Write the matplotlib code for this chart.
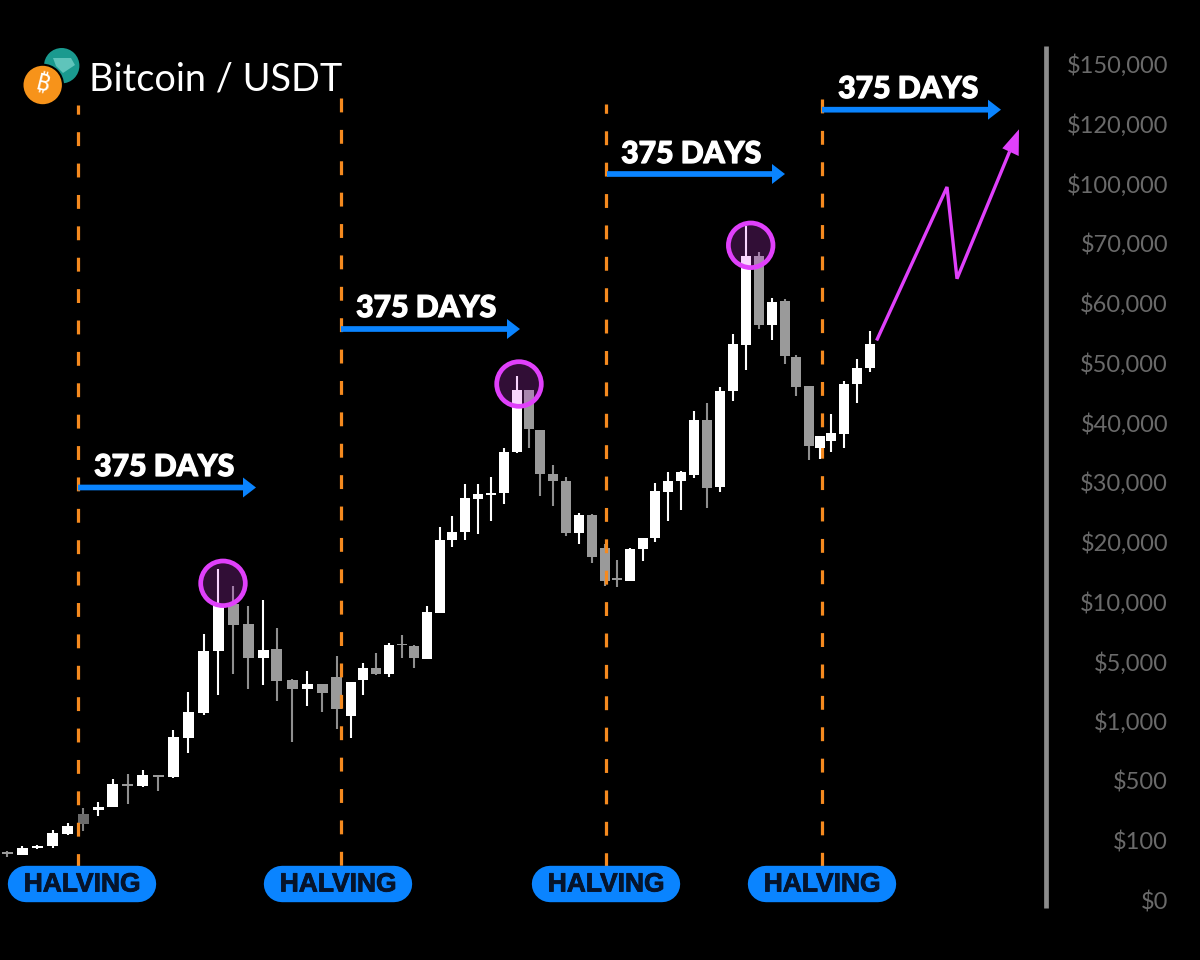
import numpy as np
import matplotlib
matplotlib.use("Agg")
import matplotlib.pyplot as plt
from matplotlib import patches, patheffects
from matplotlib.scale import FuncScale

plt.rcParams['lines.scale_dashes'] = False

# ---- data ----
price_ticks = [0, 100, 500, 1000, 5000, 10000, 20000, 30000, 40000, 50000,
               60000, 70000, 100000, 120000, 150000]
tick_labels = ['$0', '$100', '$500', '$1,000', '$5,000', '$10,000', '$20,000', '$30,000',
               '$40,000', '$50,000', '$60,000', '$70,000', '$100,000', '$120,000', '$150,000']

candle_x = [7.3, 22.3, 37.3, 52.7, 67.7, 83, 98, 112.7, 127.7, 142.7, 158, 173, 188.3, 203.7, 218,
            233, 248.3, 263.3, 276.7, 292, 307, 322, 336.7, 351, 363, 375.7, 389, 401.7, 414.3, 427,
            439.7, 452.3, 465, 477.7, 491.3, 504, 516.7, 529.3, 540.3, 553.3, 566, 578.7, 591.7, 605,
            617, 630, 642.7, 655.3, 668.3, 681, 694.3, 707.3, 720, 733, 745.7, 759.3, 772, 784.7,
            796, 808.7, 820, 831.3, 844, 856.7, 870]
open_ = [80, 76, 87, 90, 146, 278, 302, 325, 477, 466, 546, 529, 860, 1557, 5838,
         9751, 8075, 5310, 6031, 3724, 3140, 3503, 3946, 1356, 3771, 4550, 4174, 6425, 6257, 5226,
         8995, 20230, 21571, 27206, 27877, 28112, 34987, 45385, 38676, 31398, 30225, 21504, 24472, 18888,
         13857, 13354, 18720, 20565, 28280, 30124, 31231, 40287, 29118, 45217, 52967, 67789, 56335, 60243,
         50920, 45989, 35715, 36771, 38013, 46325, 49075]
high = [82, 90, 92, 168, 218, 316, 359, 518, 558, 588, 552, 921, 2919, 7263, 15467,
        12566, 9609, 10168, 7765, 3791, 4349, 3503, 5419, 3610, 4886, 5696, 6483, 7179, 6341, 9581,
        22460, 24305, 29721, 29721, 30895, 35759, 47783, 45385, 38727, 32807, 30795, 24858, 24690, 19609,
        16876, 18989, 20666, 29838, 31684, 31801, 41913, 43205, 45821, 54713, 78442, 68527, 60747, 60579,
        51188, 45989, 37610, 41360, 46828, 50545, 55216]
low = [73, 75, 85, 88, 135, 164, 262, 322, 345, 456, 428, 521, 734, 1376, 2718,
       4147, 3167, 3389, 2335, 823, 1980, 1577, 929, 856, 2765, 4107, 3946, 5277, 4550, 5226,
       8995, 19056, 20330, 21236, 23416, 26267, 34920, 35759, 27609, 25932, 20951, 19559, 16423, 12566,
       12398, 13354, 16708, 19994, 23516, 25361, 30727, 25646, 28330, 43540, 48790, 55614, 53768, 49679,
       44430, 33647, 33814, 34987, 35715, 43137, 48404]
close = [78, 87, 90, 148, 195, 208, 327, 479, 466, 549, 533, 862, 1597, 5863, 9751,
         8042, 5277, 5980, 3704, 3140, 3503, 2899, 1825, 3610, 4550, 4174, 6399, 6316, 5251, 9081,
         20330, 21622, 27273, 27944, 28162, 34987, 45317, 38844, 31297, 30174, 21504, 24472, 17379, 13354,
         13622, 18720, 20666, 28447, 30124, 31684, 40287, 29051, 45217, 53036, 67789, 56335, 60193, 51020,
         45939, 36095, 37610, 38180, 46442, 49125, 53036]

halving_x = [78, 341, 606, 822]
halving_label = 'HALVING'
span_label = '375 DAYS'
title = 'Bitcoin / USDT'

# ---- scale: evenly spaced price ladder ----
ladder_price = np.array([-200.0] + price_ticks + [180000.0, 210000.0])
ladder_pos = np.arange(len(ladder_price)) - 1.0

def to_pos(v):
    return np.interp(v, ladder_price, ladder_pos)

def to_price(p):
    return np.interp(p, ladder_pos, ladder_price)

W, H = 1200, 960
fig = plt.figure(figsize=(W / 100, H / 100), dpi=100, facecolor='black')
RIGHT = 1168
ax = fig.add_axes([0, 0, RIGHT / W, 1], facecolor='black')
ax.set_yscale(FuncScale(ax.yaxis, (to_pos, to_price)))
ax.set_xlim(0, RIGHT)
ZERO_Y, STEP = 898.5, 59.64
ax.set_ylim(to_price((ZERO_Y - H) / STEP), to_price(ZERO_Y / STEP))
for s in ax.spines.values():
    s.set_visible(False)
ax.set_xticks([])
ax.yaxis.tick_right()
ax.set_yticks(price_ticks)
ax.yaxis.set_minor_locator(matplotlib.ticker.NullLocator())
ax.set_yticklabels(tick_labels, family='Lato', fontsize=17, color='#6a6a6a', ha='right',
                   va='center_baseline')
ax.tick_params(axis='y', length=0, pad=0)

# ---- candles ----
UP, DOWN, DIM = '#ffffff', '#9a9a9a', '#6b6b6b'
dim_candles = {5}
for i, (x, o, h, l, c) in enumerate(zip(candle_x, open_, high, low, close)):
    up = c >= o
    col = UP if up else (DIM if i in dim_candles else DOWN)
    z = 4 if up else 2
    bw = 11 if x < 345 else 9.7
    ax.vlines(x, l, h, color=col if up else ('#808080' if i in dim_candles else '#8f8f8f'),
              lw=1.5, zorder=z)
    ax.bar(x, abs(c - o), bottom=min(o, c), width=bw, color=col, linewidth=0, zorder=z + 0.1)

# ---- halving lines ----
top_px = [105, 98, 104, 99.3]
off_px = [4.7, 0, 4.6, 0]
tr = ax.get_xaxis_transform()
for x, t, off in zip(halving_x, top_px, off_px):
    ax.plot([x, x], [1 - t / H, 1 - 865.5 / H], transform=tr, color='#f58a1f', lw=2.3,
            linestyle=(off * 0.72, (10.0, 12.6)), dash_capstyle='butt', zorder=3)

# ---- overlay annotations in figure pixels ----
ann = fig.add_axes([0, 0, 1, 1])
ann.set_xlim(0, W)
ann.set_ylim(H, 0)
ann.axis('off')
ann.patch.set_alpha(0)

ann.plot([1045.5, 1045.5], [46, 908], color='#8c8c8c', lw=3.4, solid_capstyle='butt')

BLUE = '#0a84ff'
PURPLE = '#e040fb'
for (x0, x1, y), (tx, ty) in zip([(78, 256, 487.5), (341, 520, 329), (607, 785, 174), (822, 1001, 109.7)],
                                 [(164, 467), (426, 308), (691, 154), (908, 89)]):
    ann.add_patch(patches.FancyArrow(x0, y, x1 - x0, 0, width=5.7, head_width=20, head_length=13,
                                     length_includes_head=True, color=BLUE, lw=0))
    ann.text(tx, ty, span_label, color='white', family='Lato', fontweight='black', fontsize=21.7,
             ha='center', va='center',
             path_effects=[patheffects.withStroke(linewidth=0.9, foreground='white')])

for cx in [82, 338, 606, 822]:
    ann.plot([cx - 56, cx + 56], [883.5, 883.5], color=BLUE, lw=26.2, solid_capstyle='round')
    ann.text(cx, 884.5, halving_label, color='#06142b', family='Liberation Sans', fontweight='bold',
             fontsize=19, ha='center', va='center',
             path_effects=[patheffects.withStroke(linewidth=0.6, foreground='#06142b')])

for cx, cy in [(223, 583.3), (519, 384), (750.7, 245.3)]:
    ann.add_patch(patches.Circle((cx, cy), 22.3, facecolor=(0.88, 0.25, 0.98, 0.22), edgecolor=PURPLE, lw=3.4))

ann.plot([877.3, 947, 957, 1009], [339, 187, 278.7, 153], color=PURPLE, lw=2.4, solid_joinstyle='miter')
ann.add_patch(patches.Polygon([(1019, 129.3), (1002.3, 148.3), (1018.7, 156)], color=PURPLE, lw=0))

# logo
ann.add_patch(patches.Circle((61.7, 65.7), 17.7, color='#1a9a8f', lw=0))
ann.add_patch(patches.Polygon([(53, 58), (71, 58), (75, 65), (63, 73), (56, 66)], color='#5fc4bb', lw=0))
ann.add_patch(patches.Circle((42.7, 85), 21.3, color='black', lw=0))
ann.add_patch(patches.Circle((42.7, 85), 19.2, color='#f7931a', lw=0))
ann.text(42.7, 85, '\u20bf', color='white', family=['Noto Sans', 'Roboto', 'Open Sans', 'Inter', 'DejaVu Sans'],
         fontsize=17, fontweight='bold', rotation=-14, ha='center', va='center')
ann.text(89, 79, title, color='white', family='Lato', fontsize=27.3, ha='left', va='center')

fig.savefig('out.png', dpi=100, facecolor='black')
